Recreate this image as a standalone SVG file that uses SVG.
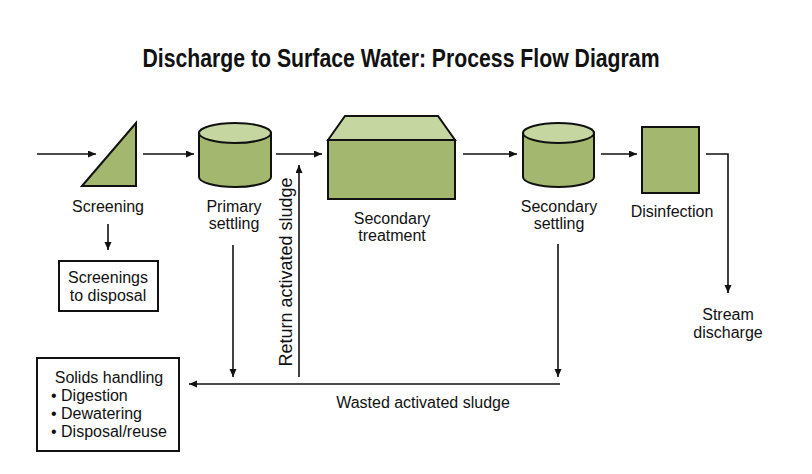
<svg xmlns="http://www.w3.org/2000/svg" width="812" height="474" viewBox="0 0 812 474">
<style>
.t{font-family:"Liberation Sans",Arial,sans-serif;font-size:16px;fill:#111;text-anchor:middle}
.tl{font-family:"Liberation Sans",Arial,sans-serif;font-size:16px;fill:#111}
.body{fill:#a3b86e;stroke:#111;stroke-width:2}
.top{fill:#c6d6a0;stroke:#111;stroke-width:2}
.box{fill:#fff;stroke:#111;stroke-width:2}
.c{fill:none;stroke:#111;stroke-width:1.6}
</style>
<defs>
<marker id="ah" markerUnits="userSpaceOnUse" markerWidth="9" markerHeight="8" refX="8" refY="3.5" orient="auto">
<path d="M0,0 L8,3.5 L0,7 Z" fill="#111"/>
</marker>
</defs>
<rect width="812" height="474" fill="#fff"/>
<text x="401" y="67" font-family="Liberation Sans,Arial,sans-serif" font-weight="bold" font-size="26" fill="#111" text-anchor="middle" textLength="517" lengthAdjust="spacingAndGlyphs">Discharge to Surface Water: Process Flow Diagram</text>

<g id="connectors">
<path class="c" d="M37,154 H96" marker-end="url(#ah)"/>
<path class="c" d="M143,154 H194" marker-end="url(#ah)"/>
<path class="c" d="M276,154 H322" marker-end="url(#ah)"/>
<path class="c" d="M463,154 H517" marker-end="url(#ah)"/>
<path class="c" d="M601,154 H637" marker-end="url(#ah)"/>
<path class="c" d="M706,154 H728 V293" marker-end="url(#ah)"/>
<path class="c" d="M108,224 V250" marker-end="url(#ah)"/>
<path class="c" d="M233,245 V377" marker-end="url(#ah)"/>
<path class="c" d="M299,377 V165" marker-end="url(#ah)"/>
<path class="c" d="M558,244 V377" marker-end="url(#ah)"/>
<path class="c" d="M560,384 H189" marker-end="url(#ah)"/>
<text class="t" transform="translate(292,272) rotate(-90)" font-size="18" style="font-size:18px">Return activated sludge</text>
<text class="t" x="423" y="408">Wasted activated sludge</text>
</g>

<g id="screening">
<polygon class="body" points="82,186 136,123 136,186"/>
<text class="t" x="108" y="212">Screening</text>
</g>

<g id="primary-settling">
<path class="body" d="M199,133 V177 A36,10 0 0 0 271,177 V133 Z"/>
<ellipse class="top" cx="235" cy="133" rx="36" ry="10"/>
<text class="t" x="234" y="212">Primary</text>
<text class="t" x="234" y="229">settling</text>
</g>

<g id="secondary-treatment">
<polygon class="top" points="328,140 345,116 438,116 455,140"/>
<rect class="body" x="328" y="140" width="127" height="59"/>
<text class="t" x="392" y="224">Secondary</text>
<text class="t" x="392" y="241">treatment</text>
</g>

<g id="secondary-settling">
<path class="body" d="M523,133 V177 A35.5,10 0 0 0 594,177 V133 Z"/>
<ellipse class="top" cx="558.5" cy="133" rx="35.5" ry="10"/>
<text class="t" x="559" y="212">Secondary</text>
<text class="t" x="559" y="229">settling</text>
</g>

<g id="disinfection">
<rect class="body" x="642" y="127" width="57" height="66"/>
<text class="t" x="672" y="217">Disinfection</text>
</g>

<g id="stream-discharge">
<text class="t" x="728" y="320">Stream</text>
<text class="t" x="728" y="338">discharge</text>
</g>

<g id="screenings-disposal">
<rect class="box" x="59" y="261" width="99" height="50"/>
<text class="t" x="108" y="283">Screenings</text>
<text class="t" x="108" y="301">to disposal</text>
</g>

<g id="solids-handling">
<rect class="box" x="37" y="358" width="142" height="93"/>
<text class="t" x="109" y="383">Solids handling</text>
<text class="tl" x="51" y="401">• Digestion</text>
<text class="tl" x="51" y="419">• Dewatering</text>
<text class="tl" x="51" y="437">• Disposal/reuse</text>
</g>
</svg>
